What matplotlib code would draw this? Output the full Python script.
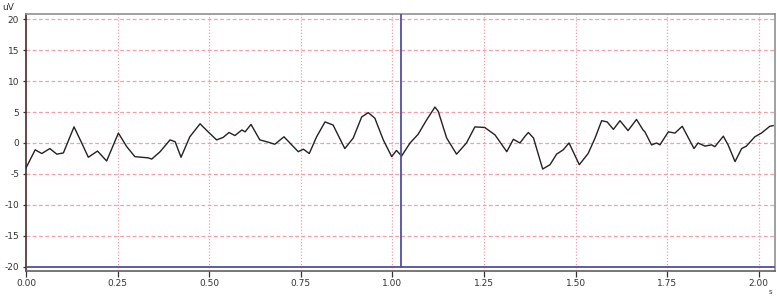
import matplotlib
matplotlib.use("Agg")
import matplotlib.pyplot as plt

# time (s) and amplitude (uV)
time_s = [0.000, 0.025, 0.043, 0.065, 0.084, 0.102, 0.131, 0.152, 0.170, 0.195,
          0.220, 0.252, 0.275, 0.297, 0.334, 0.343, 0.366, 0.393, 0.407, 0.423,
          0.447, 0.475, 0.497, 0.520, 0.538, 0.554, 0.570, 0.589, 0.598, 0.614,
          0.638, 0.657, 0.679, 0.704, 0.725, 0.743, 0.757, 0.773, 0.793, 0.816,
          0.838, 0.870, 0.893, 0.916, 0.934, 0.952, 0.975, 0.998, 1.011, 1.025,
          1.048, 1.070, 1.093, 1.116, 1.125, 1.148, 1.175, 1.202, 1.225, 1.252,
          1.280, 1.312, 1.330, 1.348, 1.362, 1.371, 1.385, 1.410, 1.430, 1.448,
          1.466, 1.482, 1.510, 1.534, 1.553, 1.571, 1.586, 1.603, 1.621, 1.643,
          1.666, 1.684, 1.689, 1.707, 1.721, 1.730, 1.753, 1.771, 1.791, 1.823,
          1.834, 1.853, 1.871, 1.880, 1.903, 1.916, 1.935, 1.953, 1.966, 1.989,
          2.007, 2.030, 2.039]
signal_uv = [-4.0, -1.1, -1.7, -0.9, -1.8, -1.6, 2.6, 0.0, -2.3, -1.3,
             -2.9, 1.6, -0.6, -2.2, -2.4, -2.6, -1.4, 0.5, 0.2, -2.3,
             1.0, 3.1, 1.8, 0.5, 0.9, 1.7, 1.2, 2.1, 1.8, 3.0,
             0.5, 0.2, -0.2, 1.0, -0.3, -1.4, -1.0, -1.7, 1.0, 3.4,
             2.9, -0.9, 0.8, 4.2, 4.9, 4.0, 0.5, -2.2, -1.2, -2.1,
             0.0, 1.4, 3.7, 5.8, 5.1, 0.8, -1.8, 0.0, 2.6, 2.5,
             1.3, -1.4, 0.6, 0.0, 1.1, 1.7, 0.8, -4.2, -3.5, -1.8,
             -1.1, 0.0, -3.5, -1.7, 0.8, 3.6, 3.4, 2.2, 3.6, 2.0,
             3.8, 2.1, 1.8, -0.3, 0.0, -0.3, 1.8, 1.6, 2.7, -0.9,
             0.0, -0.5, -0.3, -0.6, 1.1, -0.3, -3.0, -0.9, -0.5, 1.0,
             1.6, 2.7, 2.8]

x_ticks = [0.00, 0.25, 0.50, 0.75, 1.00, 1.25, 1.50, 1.75, 2.00]
x_tick_labels = ["0.00", "0.25", "0.50", "0.75", "1.00", "1.25", "1.50", "1.75", "2.00"]
y_ticks = [-20, -15, -10, -5, 0, 5, 10, 15, 20]
y_tick_labels = ["-20", "-15", "-10", "-5", "0", "5", "10", "15", "20"]
cursor_time = 1.023
baseline_uv = -20

fig = plt.figure(figsize=(7.77, 2.98), dpi=100)
ax = fig.add_axes([0.0335, 0.0916, 0.9639, 0.8604])
ax.set_xlim(0, 2.044)
ax.set_ylim(-20.6, 20.76)

grid_color = "#f2a0a8"
for y in y_ticks[1:]:
    ax.axhline(y, color=grid_color, lw=0.9, dashes=(3, 2), zorder=1)
for x in x_ticks[1:]:
    ax.axvline(x, color=grid_color, lw=0.9, dashes=(1, 1.5), zorder=1)

ax.plot(time_s, signal_uv, color="#222222", lw=1.0, solid_joinstyle="round", zorder=3)

ax.axhline(baseline_uv, color="#5050a0", lw=1.3, zorder=4)
ax.plot([cursor_time, cursor_time], [baseline_uv, 20.76], color="#5050a0", lw=1.3, zorder=4)

for s in ["top", "right"]:
    ax.spines[s].set_color("#909090")
    ax.spines[s].set_linewidth(1.2)
ax.spines["bottom"].set_color("#606060")
ax.spines["bottom"].set_linewidth(1.2)
ax.spines["left"].set_color("#4a2a2a")
ax.spines["left"].set_linestyle((0, (1, 1)))
ax.spines["left"].set_linewidth(1.2)

ax.set_xticks(x_ticks)
ax.set_xticklabels(x_tick_labels)
ax.set_yticks(y_ticks)
ax.set_yticklabels(y_tick_labels)
ax.tick_params(axis="x", length=4, width=0.9, color="#333333", labelsize=6.5,
               labelcolor="#333333", pad=2)
ax.tick_params(axis="y", length=2, width=0.9, color="#333333", labelsize=6.5,
               labelcolor="#333333", pad=3)

fig.text(0.003, 0.975, "uV", fontsize=6.5, color="#333333", va="center", ha="left")
fig.text(0.992, 0.02, "s", fontsize=5, color="#333333", va="center", ha="center")

fig.savefig("out.png", dpi=100)
